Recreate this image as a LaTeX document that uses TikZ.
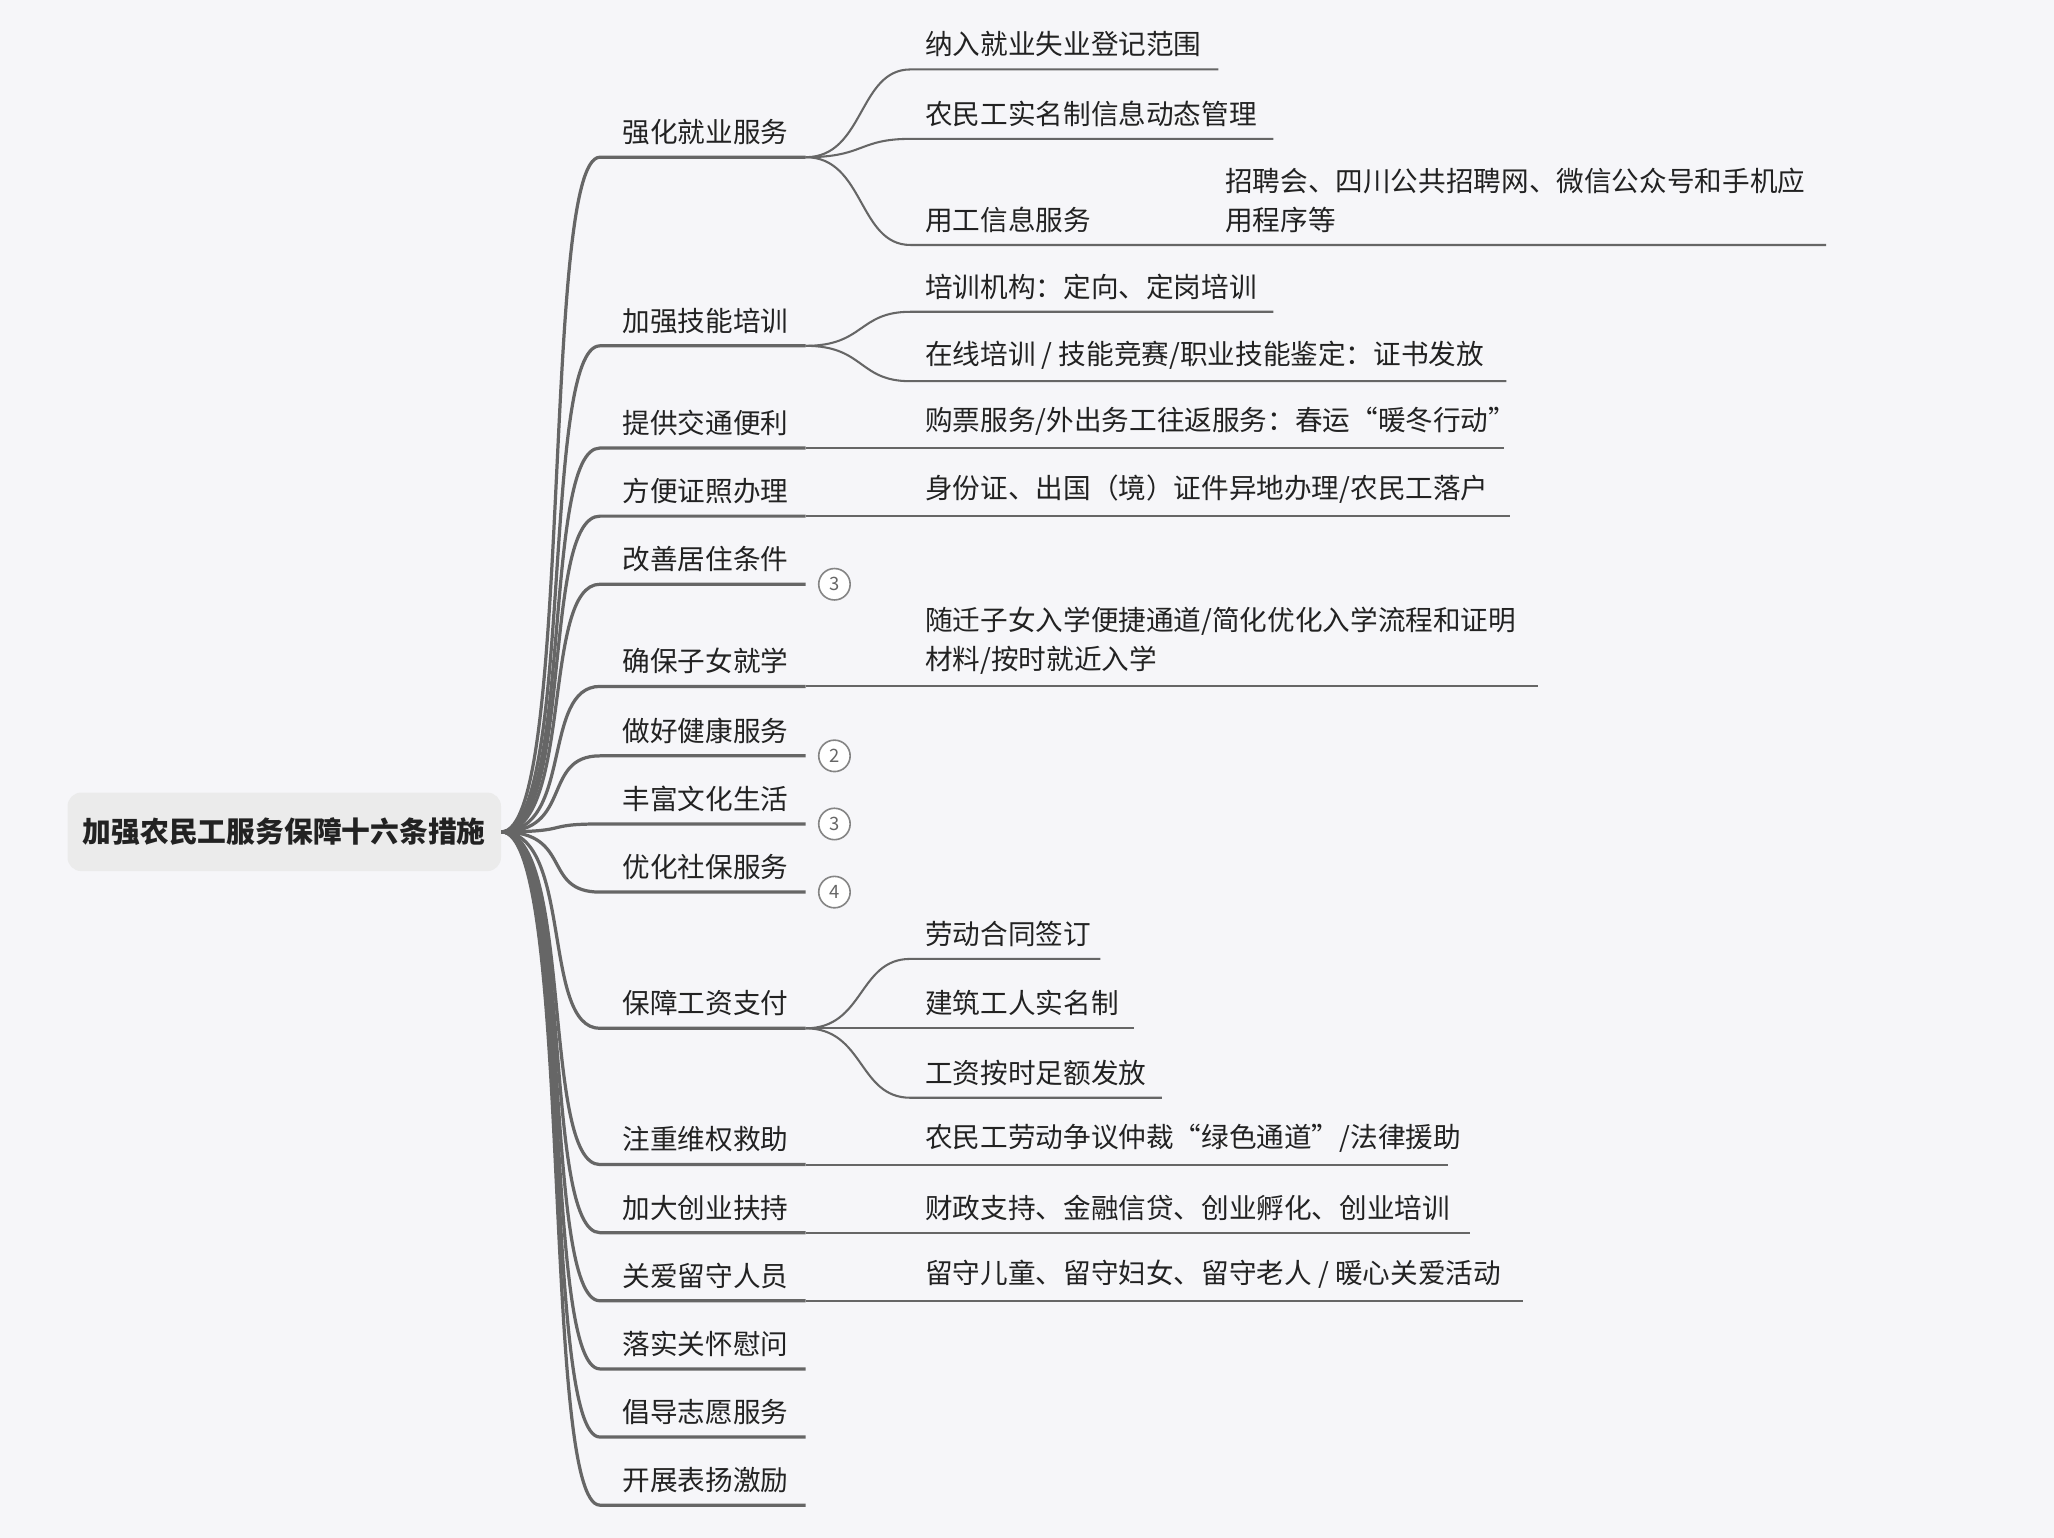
\documentclass[tikz,border=0pt]{standalone}
\usepackage{fontspec}
\setmainfont{Noto Sans CJK SC}
\usetikzlibrary{positioning}
\definecolor{bgc}{HTML}{F6F6F9}
\definecolor{rootc}{HTML}{EBEBEB}
\definecolor{linec}{HTML}{666666}
\definecolor{textc}{HTML}{222222}
\tikzset{root/.style={fill=rootc,rounded corners=6pt,minimum width=6.62cm,minimum height=1.2cm,font=\fontsize{12.5}{15}\selectfont\bfseries,text=textc}}
\tikzset{lvl1/.style={anchor=south west,inner sep=0pt,font=\fontsize{12}{15}\selectfont,text=textc}}
\tikzset{lvl2/.style={anchor=south west,inner sep=0pt,align=left,font=\fontsize{12}{17}\selectfont,text=textc}}
\tikzset{branch/.style={draw=linec,line width=1.4pt}}
\tikzset{twig/.style={draw=linec,line width=0.9pt}}
\tikzset{fold/.style={draw=linec!80,fill=white,circle,line width=0.7pt,minimum size=0.48cm,inner sep=0pt,font=\fontsize{8}{9}\selectfont,text=linec}}

\begin{document}
\begin{tikzpicture}[x=0.02cm,y=-0.02cm]
\fill[bgc] (0,0) rectangle (1568,1174);
\useasboundingbox (0,0) rectangle (1568,1174);

\node[root] (root) at (217,635) {加强农民工服务保障十六条措施};

% first level
\foreach \n/\t/\y in {a/强化就业服务/120, b/加强技能培训/264, c/提供交通便利/342,
  d/方便证照办理/394, e/改善居住条件/446, f/确保子女就学/524, g/做好健康服务/577,
  h/丰富文化生活/629, i/优化社保服务/681, j/保障工资支付/785, k/注重维权救助/889,
  l/加大创业扶持/941, m/关爱留守人员/993, n/落实关怀慰问/1045, o/倡导志愿服务/1097,
  p/开展表扬激励/1149} {
  \coordinate (\n s) at (458,\y);
  \coordinate (\n e) at (615,\y);
  \node[lvl1] (\n) at (475,\y-9) {\t};
  \draw[branch] (root.east) .. controls +(55,0) and +(-45,0) .. (\n s) -- (\n e);
}

% folded branches
\node[fold] (ef) at (637,446) {3};
\node[fold] (gf) at (637,577) {2};
\node[fold] (hf) at (637,629) {3};
\node[fold] (if) at (637,681) {4};

% second level
\foreach \p/\n/\y/\x/\t in {a/a1/53/930/{纳入就业失业登记范围}, a/a2/106/972/{农民工实名制信息动态管理},
  a/a3/187/1394/{用工信息服务}, b/b1/238/972/{培训机构：定向、定岗培训},
  b/b2/291/1150/{在线培训 / 技能竞赛/职业技能鉴定：证书发放},
  c/c1/342/1148/{购票服务/外出务工往返服务：春运“暖冬行动”},
  d/d1/394/1153/{身份证、出国（境）证件异地办理/农民工落户},
  f/f1/524/1174/{随迁子女入学便捷通道/简化优化入学流程和证明\\材料/按时就近入学},
  j/j1/732/840/{劳动合同签订}, j/j2/785/866/{建筑工人实名制}, j/j3/838/887/{工资按时足额发放},
  k/k1/889/1105/{农民工劳动争议仲裁“绿色通道”/法律援助},
  l/l1/941/1122/{财政支持、金融信贷、创业孵化、创业培训},
  m/m1/993/1163/{留守儿童、留守妇女、留守老人 / 暖心关爱活动}} {
  \coordinate (\n s) at (695,\y);
  \coordinate (\n e) at (\x,\y);
  \node[lvl2] (\n) at (706,\y-9) {\t};
  \draw[twig] (\p e) .. controls +(45,0) and +(-40,0) .. (\n s) -- (\n e);
}

% third level
\node[lvl2] (a31) at (935,178) {招聘会、四川公共招聘网、微信公众号和手机应\\用程序等};
\end{tikzpicture}
\end{document}
